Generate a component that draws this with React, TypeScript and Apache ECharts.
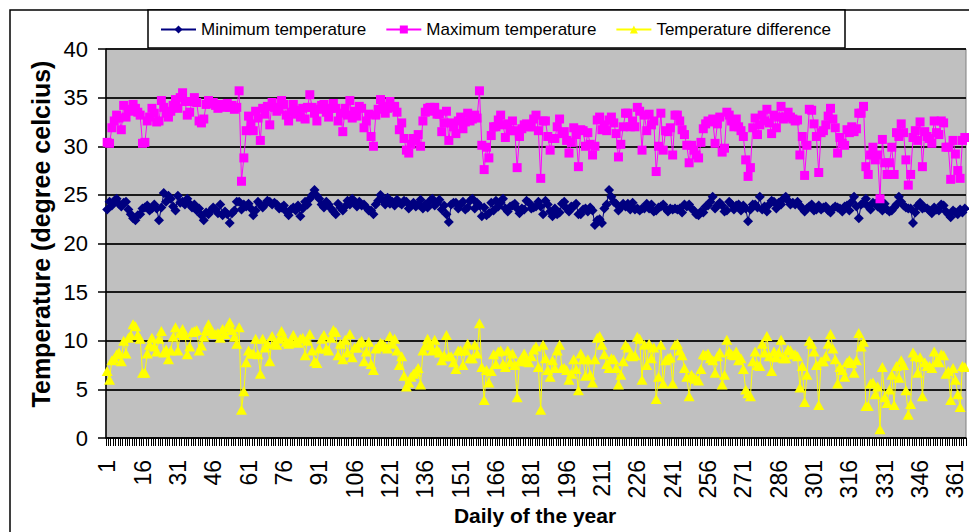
import React, { useEffect, useRef } from "react";
import * as echarts from "echarts";

const days: string[] = Array.from({ length: 365 }, (_, i) => String(i + 1));

const seriesNames = ["Minimum temperature", "Maximum temperature", "Temperature difference"];

const minTemp = [
  23.5,24.3,23.9,24.4,24.6,24.1,23.8,24.2,24.3,23.5,
  23.0,22.6,22.4,22.9,23.0,23.6,23.7,23.9,23.4,23.6,
  24.0,23.6,22.4,23.7,25.2,24.3,24.9,24.6,23.8,23.4,
  24.9,24.2,24.3,24.0,24.6,24.1,23.7,24.0,23.4,23.6,
  22.9,22.4,23.2,23.0,23.4,23.7,23.5,23.1,24.0,22.9,
  23.3,23.0,22.1,23.1,23.4,24.3,24.3,23.5,24.0,23.8,
  24.1,23.6,22.9,23.4,24.3,24.0,23.7,24.0,24.4,24.3,
  24.0,24.2,24.0,23.6,23.7,23.9,23.3,22.9,23.5,23.7,
  23.4,23.9,22.8,23.6,24.3,24.0,24.6,25.0,25.5,24.9,
  24.6,24.0,23.7,24.3,24.0,23.6,23.3,23.0,24.1,23.7,
  23.4,23.8,24.4,24.0,24.6,24.3,23.8,24.3,23.9,24.0,
  23.7,23.4,23.4,23.0,24.0,24.4,25.0,24.4,24.0,24.7,
  24.1,24.3,23.9,24.5,24.2,24.0,24.4,24.3,23.6,23.9,
  24.2,23.8,24.0,24.5,23.6,24.0,23.7,24.4,24.6,23.9,
  24.2,24.5,23.5,23.9,23.0,22.2,24.0,24.2,24.2,23.6,
  24.0,24.3,23.5,23.7,24.4,24.6,23.6,24.2,23.9,22.8,
  23.7,22.9,23.1,24.2,23.4,24.4,23.8,24.2,24.6,23.6,
  23.3,23.8,23.9,24.1,23.6,23.1,23.6,23.5,24.4,24.2,
  23.6,23.7,23.8,24.3,23.8,23.0,24.4,24.0,23.3,22.8,
  23.6,23.0,23.2,24.1,24.3,23.6,23.3,23.8,23.8,24.1,
  23.0,23.0,23.5,23.6,23.3,23.7,23.4,21.9,22.4,22.5,
  22.1,23.6,24.0,25.5,24.8,24.3,24.1,23.4,23.7,24.1,
  23.8,24.1,23.5,24.2,23.5,23.6,23.4,23.6,23.6,24.1,
  23.6,24.0,23.3,23.4,23.7,23.8,24.0,23.6,23.3,23.6,
  23.5,23.6,23.5,23.6,23.2,24.0,23.8,24.0,23.6,23.4,
  23.0,22.9,23.3,23.2,23.8,23.9,24.3,24.8,23.6,23.9,
  24.2,23.9,23.3,23.4,24.3,24.0,23.5,23.9,24.0,23.4,
  23.9,23.6,22.3,23.5,24.0,24.0,23.7,24.8,23.5,23.8,
  23.3,24.0,24.4,24.3,23.6,24.2,24.0,24.6,24.8,24.4,
  24.0,24.2,24.0,24.3,23.9,23.6,23.3,23.6,23.8,24.0,
  23.4,23.5,23.9,23.5,23.7,23.8,23.4,23.2,23.6,23.8,
  23.7,23.6,23.3,23.8,23.9,23.4,24.3,24.8,23.8,22.6,
  24.0,24.2,24.6,23.8,23.5,24.2,24.1,23.8,23.7,23.4,
  24.1,23.5,23.3,23.4,23.7,24.0,24.8,24.3,23.9,23.7,
  23.6,23.6,22.1,23.2,23.9,24.2,23.6,23.7,23.6,23.4,
  23.1,23.7,23.5,23.4,24.0,23.9,23.3,23.0,22.7,23.4,
  23.2,23.0,23.5,23.2,23.6,
];

const maxTemp = [
  30.4,30.3,31.9,32.6,33.2,32.9,31.7,34.2,33.0,33.8,
  33.6,34.3,33.9,33.5,33.2,30.3,30.4,32.6,33.0,33.9,
  33.4,32.5,32.6,34.7,34.0,33.4,33.0,33.6,34.2,34.8,
  33.9,35.0,35.5,34.6,33.2,33.5,34.6,35.0,34.5,32.6,
  32.4,32.8,34.3,34.7,34.4,34.5,34.2,33.9,34.3,34.1,
  34.0,34.4,34.0,34.2,33.8,34.0,35.7,26.4,28.8,31.6,
  33.1,32.3,31.6,33.6,32.9,30.6,33.9,33.3,34.1,32.2,
  34.5,34.0,33.6,33.8,34.7,34.3,33.2,32.6,33.5,34.3,
  33.3,33.7,33.0,33.9,32.8,34.0,35.3,34.0,33.4,32.6,
  33.8,34.2,34.3,33.5,33.0,33.9,34.4,33.9,32.6,33.4,
  31.5,33.9,33.2,34.7,32.9,33.6,33.1,34.1,33.9,31.9,
  32.6,33.3,31.0,30.0,33.2,33.8,34.8,34.1,33.4,33.9,
  34.6,34.0,34.1,33.5,31.7,32.4,30.8,29.6,29.3,30.2,
  30.8,30.6,31.2,30.0,32.6,33.5,33.9,34.0,33.6,34.0,
  33.3,33.3,31.5,32.4,33.6,30.6,32.4,32.0,31.3,32.6,
  33.0,31.8,32.5,33.4,32.6,32.8,33.2,32.9,35.7,30.1,
  27.6,29.9,28.8,31.1,32.0,32.0,32.7,33.2,32.2,30.9,
  32.3,31.6,32.6,31.6,27.8,31.0,31.8,32.2,32.3,32.0,
  32.0,32.8,33.2,31.6,26.7,32.6,32.6,31.0,29.6,30.8,
  30.8,32.0,32.8,31.3,31.5,30.6,29.3,30.4,31.9,31.2,
  27.9,31.7,31.6,30.0,31.4,30.2,29.1,30.0,32.7,33.0,
  31.7,32.2,31.6,32.7,33.0,32.4,31.3,28.9,30.2,32.0,
  33.4,33.4,32.0,32.6,32.0,34.0,33.6,29.6,33.2,31.6,
  33.3,32.2,32.6,27.4,30.0,33.4,29.6,31.6,31.5,31.9,
  29.1,33.2,33.2,32.6,31.7,31.2,30.1,28.3,30.1,29.6,
  29.1,28.8,30.4,31.8,32.3,32.6,32.5,32.8,30.3,32.3,
  33.0,29.4,29.8,33.5,33.2,32.6,32.0,32.8,32.0,31.6,
  31.0,28.6,26.9,27.8,31.9,32.9,31.2,32.2,33.2,32.6,
  33.8,32.4,31.3,33.2,31.9,33.0,34.1,32.8,33.0,33.5,
  33.0,32.8,32.6,32.7,29.1,31.0,27.0,30.1,33.8,33.7,
  32.3,31.0,27.3,31.4,31.6,32.2,33.1,33.9,32.8,31.9,
  29.3,30.9,30.3,30.1,31.7,31.4,32.0,31.5,31.8,33.4,
  33.4,34.1,27.9,27.1,29.1,29.9,28.6,29.1,24.6,30.7,
  28.3,27.1,28.3,29.9,27.1,31.4,31.0,32.3,31.4,28.6,
  26.0,27.1,30.9,31.6,30.6,32.5,27.9,31.5,31.0,30.8,
  30.3,32.6,31.4,31.2,32.6,32.4,29.9,29.9,26.6,30.6,
  29.2,27.5,26.7,30.6,30.9,
];

const diffTemp = [
  6.9,6.0,8.0,8.2,8.6,8.8,7.9,10.0,8.7,10.3,
  10.6,11.7,11.5,10.6,10.2,6.7,6.7,8.7,9.6,10.3,
  9.4,8.9,10.2,11.0,8.8,9.1,8.1,9.0,10.4,11.4,
  9.0,10.8,11.2,10.6,8.6,9.4,10.9,11.0,11.1,9.0,
  9.5,10.4,11.1,11.7,11.0,10.8,10.7,10.8,10.3,11.2,
  10.7,11.4,11.9,11.1,10.4,9.7,11.4,2.9,4.8,7.8,
  9.0,8.7,8.7,10.2,8.6,6.6,10.2,9.3,9.7,7.9,
  10.5,9.8,9.6,10.2,11.0,10.4,9.9,9.7,10.0,10.6,
  9.9,9.8,10.2,10.3,8.5,10.0,10.7,9.0,7.9,7.7,
  9.2,10.2,10.6,9.2,9.0,10.3,11.1,10.9,8.5,9.7,
  8.1,10.1,8.8,10.7,8.3,9.3,9.3,9.8,10.0,7.9,
  8.9,9.9,7.6,7.0,9.2,9.4,9.8,9.7,9.4,9.2,
  10.5,9.7,10.2,9.0,7.5,8.4,6.4,5.3,5.7,6.3,
  6.6,6.8,7.2,5.5,9.0,9.5,10.2,9.6,9.0,10.1,
  9.1,8.8,8.0,8.5,10.6,8.4,8.4,7.8,7.1,9.0,
  9.0,7.5,9.0,9.7,8.2,8.2,9.6,8.7,11.8,7.3,
  3.9,7.0,5.7,6.9,8.6,7.6,8.9,9.0,7.6,7.3,
  9.0,7.8,8.7,7.5,4.2,7.9,8.2,8.7,7.9,7.8,
  8.4,9.1,9.4,7.3,2.9,9.6,8.2,7.0,6.3,8.0,
  7.2,9.0,9.6,7.2,7.2,7.0,6.0,6.6,8.1,7.1,
  4.9,8.7,8.1,6.4,8.1,6.5,5.7,8.1,10.3,10.5,
  9.6,8.6,7.6,7.2,8.2,8.1,7.2,5.5,6.5,7.9,
  9.6,9.3,8.5,8.4,8.5,10.4,10.2,6.0,9.6,7.5,
  9.7,8.2,9.3,4.0,6.3,9.6,5.6,8.0,8.2,8.3,
  5.6,9.6,9.7,9.0,8.5,7.2,6.3,4.3,6.5,6.2,
  6.1,5.9,7.1,8.6,8.5,8.7,8.2,8.0,6.7,8.4,
  8.8,5.5,6.5,10.1,8.9,8.6,8.5,8.9,8.0,8.2,
  7.1,5.0,4.6,4.3,7.9,8.9,7.5,7.4,9.7,8.8,
  10.5,8.4,6.9,8.9,8.3,8.8,10.1,8.2,8.2,9.1,
  9.0,8.6,8.6,8.4,5.2,7.4,3.7,6.5,10.0,9.7,
  8.9,7.5,3.4,7.9,7.9,8.4,9.7,10.7,9.2,8.1,
  5.6,7.3,7.0,6.3,7.8,8.0,7.7,6.7,8.0,10.8,
  9.4,9.9,3.3,3.3,5.6,5.7,4.5,5.3,0.9,7.3,
  4.2,3.6,5.0,6.5,3.4,7.4,6.2,8.0,7.5,4.9,
  2.4,3.5,8.8,8.4,6.7,8.3,4.3,7.8,7.4,7.4,
  7.2,8.9,7.9,7.8,8.6,8.5,6.6,6.9,3.9,7.2,
  6.0,4.5,3.2,7.4,7.3,
];

const yTicks = { min: 0, max: 40, step: 5 };

const FONT = '"Liberation Sans", Arial, Helvetica, sans-serif';

export default function App() {
  const ref = useRef<HTMLDivElement>(null);

  useEffect(() => {
    if (!ref.current) return;
    const chart = echarts.init(ref.current, null, { renderer: "svg" });
    const option: any = {
      animation: false,
      backgroundColor: "#ffffff",
      textStyle: { fontFamily: FONT },
      grid: {
        left: 106,
        right: 3,
        top: 49,
        bottom: 94,
        show: true,
        backgroundColor: "#C0C0C0",
        borderColor: "#808080",
        borderWidth: 1,
      },
      legend: {
        left: 160,
        top: 21,
        padding: 0,
        itemWidth: 35,
        itemHeight: 10,
        itemGap: 19,
        textStyle: { fontSize: 17, color: "#000", fontFamily: FONT },
        data: seriesNames,
      },
      xAxis: {
        type: "category",
        data: days,
        boundaryGap: true,
        axisLine: { show: true, lineStyle: { color: "#000", width: 1.5 } },
        axisTick: { show: true, interval: 0, length: 8, lineStyle: { color: "#000", width: 1 } },
        axisLabel: { interval: 14, rotate: 90, fontSize: 23, color: "#000", margin: 22, fontFamily: FONT },
        splitLine: { show: false },
      },
      yAxis: {
        type: "value",
        min: yTicks.min,
        max: yTicks.max,
        interval: yTicks.step,
        axisLine: { show: true, lineStyle: { color: "#000", width: 1.5 } },
        axisTick: { show: true, length: 8, lineStyle: { color: "#000", width: 1.5 } },
        axisLabel: { fontSize: 22, color: "#000", margin: 18, fontFamily: FONT },
        splitLine: { show: true, lineStyle: { color: "#1a1a1a", width: 2 } },
      },
      graphic: [
        {
          type: "rect",
          silent: true,
          shape: { x: 10, y: 10, width: 980, height: 540 },
          style: { fill: "none", stroke: "#000", lineWidth: 1.5 },
        },
        {
          type: "rect",
          silent: true,
          shape: { x: 148, y: 10, width: 697, height: 38 },
          style: { fill: "#fff", stroke: "#000", lineWidth: 1.5 },
        },
        {
          type: "text",
          silent: true,
          x: 41,
          y: 234,
          rotation: Math.PI / 2,
          style: {
            text: "Temperature (degree celcius)",
            fontSize: 25,
            fontWeight: "bold",
            fontFamily: FONT,
            fill: "#000",
            align: "center",
            verticalAlign: "middle",
          },
        },
        {
          type: "text",
          silent: true,
          x: 535,
          y: 515,
          style: {
            text: "Daily of the year",
            fontSize: 21,
            fontWeight: "bold",
            fontFamily: FONT,
            fill: "#000",
            align: "center",
            verticalAlign: "middle",
          },
        },
      ],
      series: [
        {
          name: seriesNames[0],
          type: "line",
          data: minTemp,
          symbol: "diamond",
          symbolSize: 10,
          showAllSymbol: true,
          itemStyle: { color: "#000080" },
          lineStyle: { color: "#000080", width: 1 },
        },
        {
          name: seriesNames[1],
          type: "line",
          data: maxTemp,
          symbol: "rect",
          symbolSize: 9,
          showAllSymbol: true,
          itemStyle: { color: "#FF00FF" },
          lineStyle: { color: "#FF00FF", width: 1 },
        },
        {
          name: seriesNames[2],
          type: "line",
          data: diffTemp,
          symbol: "triangle",
          symbolSize: [11, 10],
          showAllSymbol: true,
          itemStyle: { color: "#FFFF00" },
          lineStyle: { color: "#FFFF00", width: 1 },
        },
      ],
    };
    chart.setOption(option);
    return () => chart.dispose();
  }, []);

  return (
    <div
      ref={ref}
      style={{ position: "fixed", left: 0, top: 0, width: 969, height: 532 }}
    />
  );
}
